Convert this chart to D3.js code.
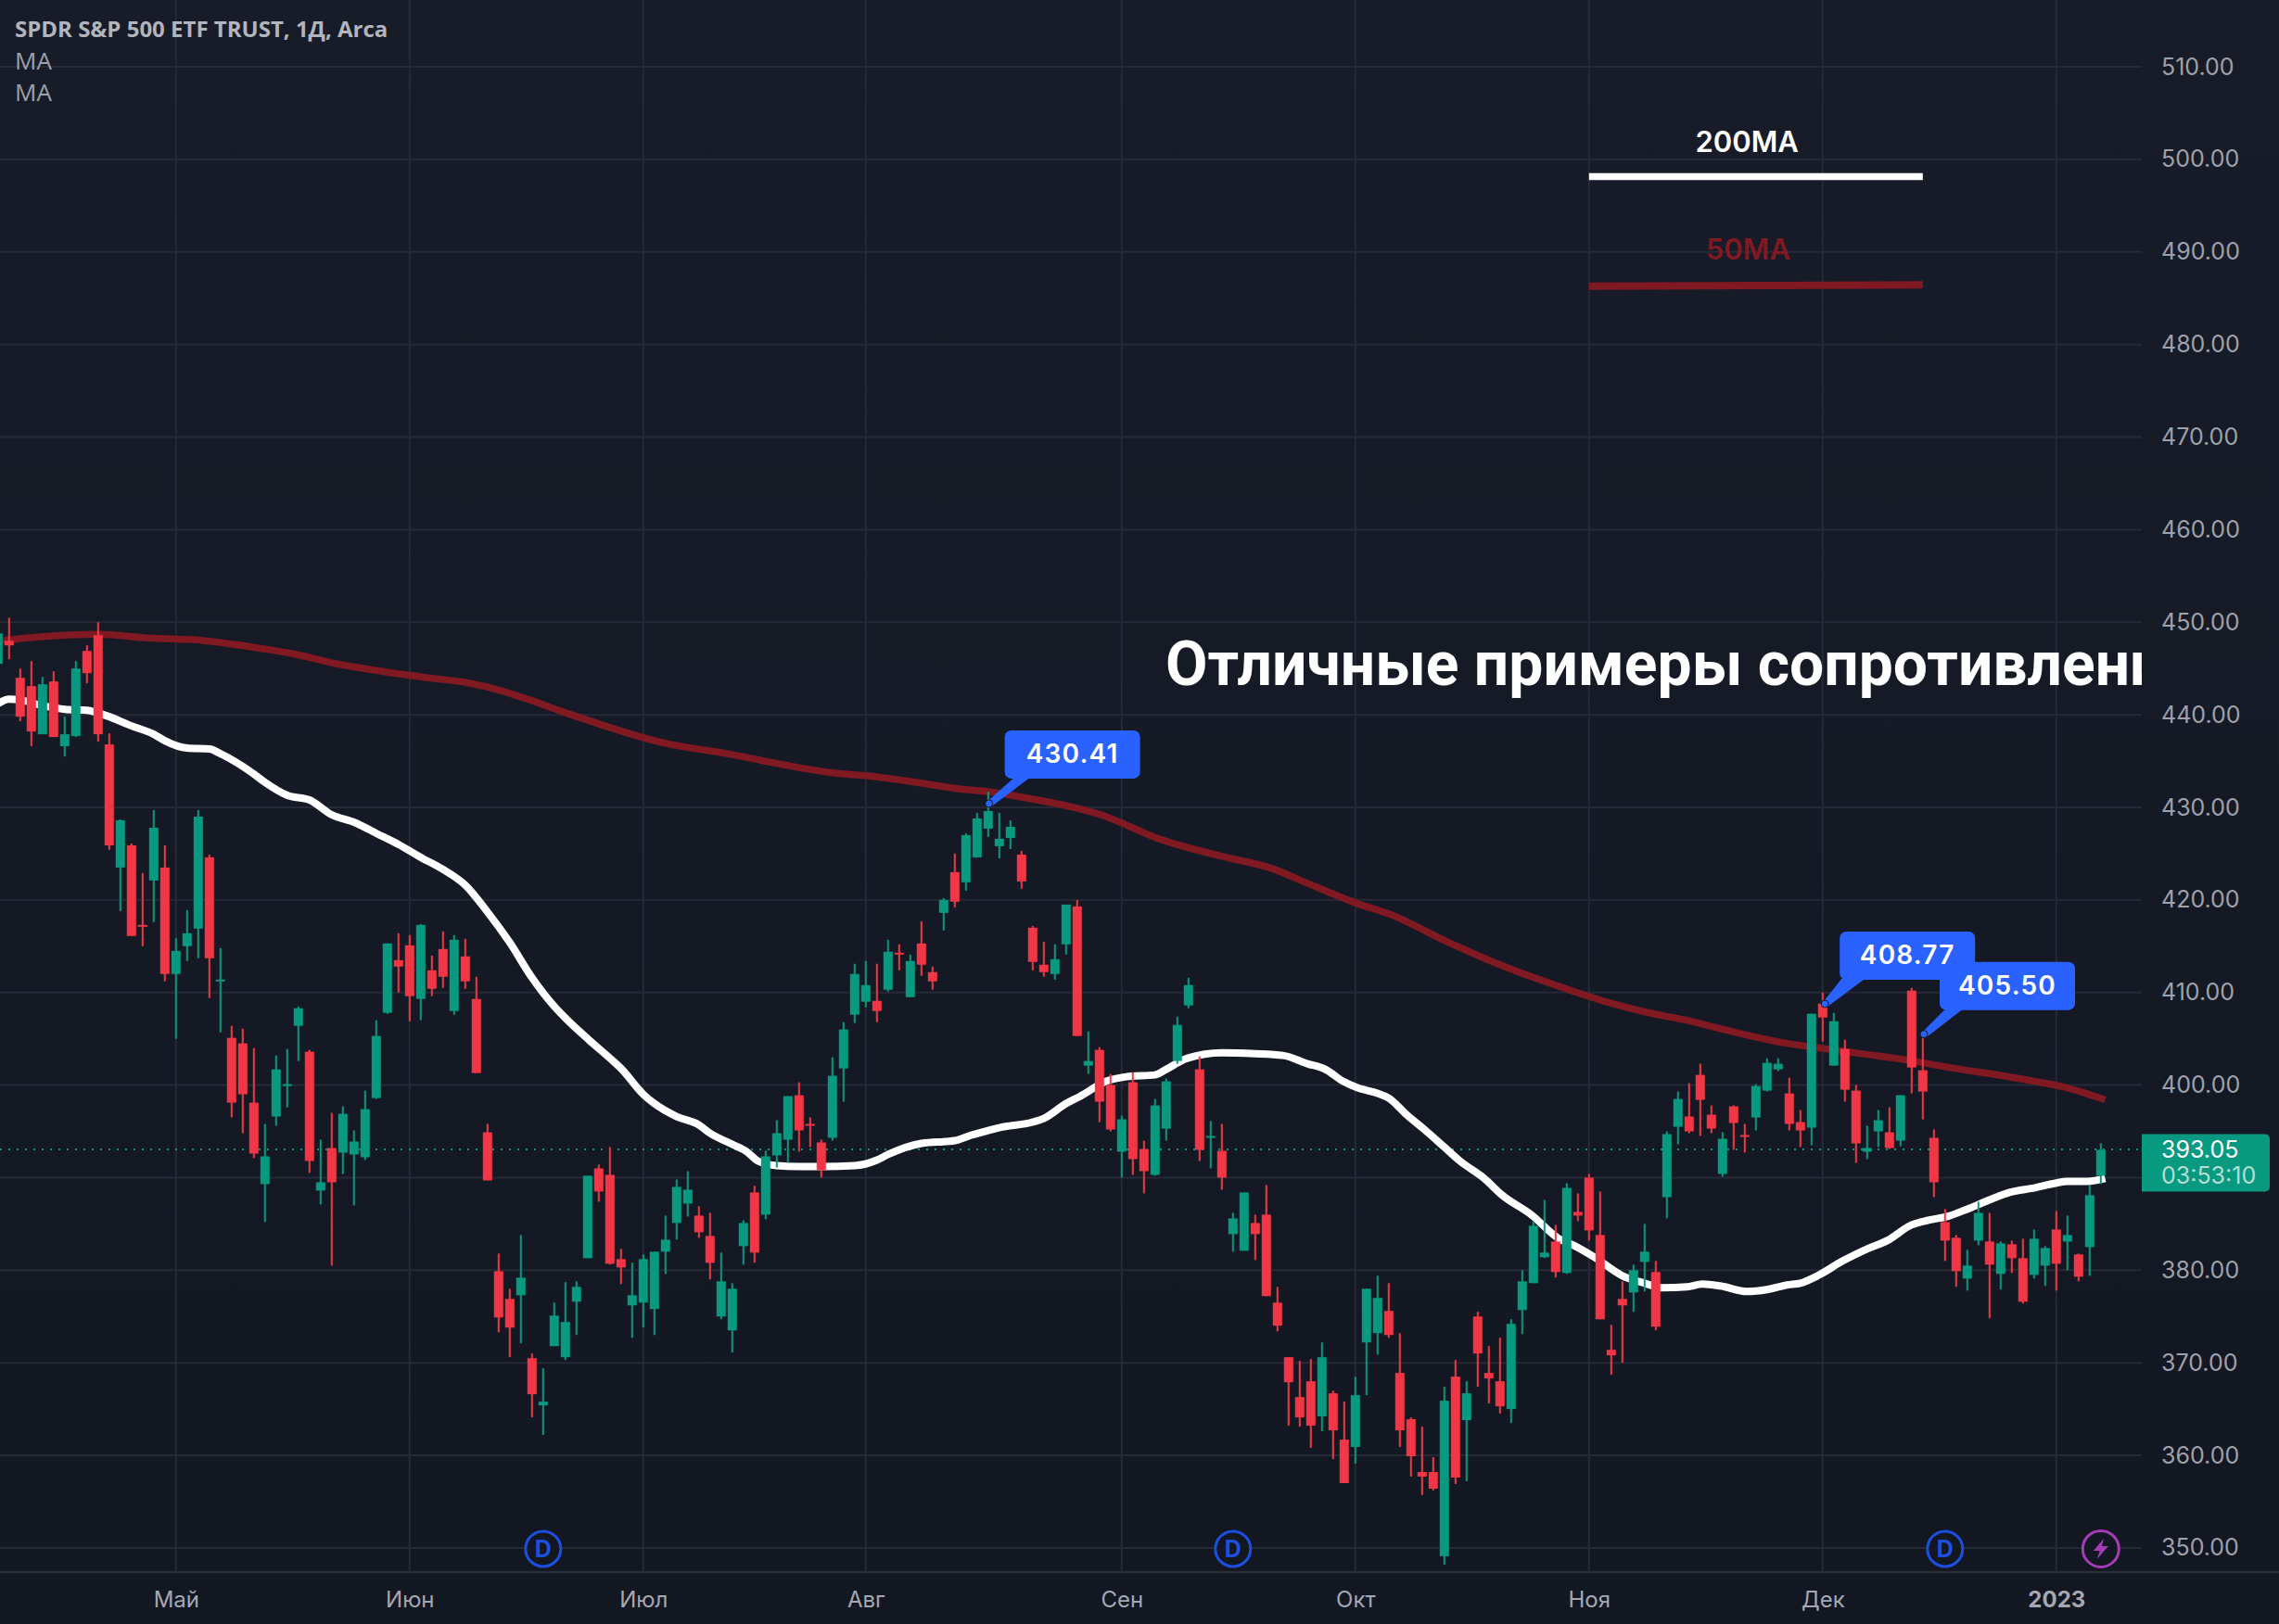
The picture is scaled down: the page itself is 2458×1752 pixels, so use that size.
<!DOCTYPE html>
<html><head><meta charset="utf-8">
<script src="https://cdn.jsdelivr.net/npm/d3@7/dist/d3.min.js"></script>
<style>html,body{margin:0;padding:0;background:#131722}svg{display:block}text{font-family:Inter,sans-serif}</style>
</head><body><div id="c"></div>
<script>
const opens=[445.5,448,444,443.1,437.9,443.6,436.6,437.7,446.9,448.6,436.8,423.5,425.9,417.3,422.1,423.5,412,415,416.9,424.6,411.2,405.1,404.5,398.1,389.3,396.6,400,406.4,403.6,388.6,393.2,392.7,392.5,392.2,398.6,407.8,413.5,415.1,409.3,412.4,414.7,408,413.9,409.3,394.9,379.9,376.9,377.3,370.5,365.4,371.8,370.6,376.6,381.3,391,390.3,381.2,376.2,376.5,375.8,382,385.1,387.2,385.9,383.7,375,373.5,382.6,388.4,386,392.4,394.1,398.9,395.8,393.8,394.3,401.8,407.6,409,409.1,410.3,414.3,409.5,415.3,412.2,418.6,423,421.9,424.6,427.7,425.8,426.7,424.9,417,413,412,415.2,419.3,402.1,403.8,400,392.8,400.3,393.1,390.3,395.3,402.6,408.6,401.7,394.4,392.9,383.9,382.1,385.1,386,376.5,370.6,366.3,368,364.2,366.7,361.7,360.9,372.2,373.2,375.6,368.9,363.9,358.2,358.2,349.1,368.5,363.8,375,368.9,368,365,375.7,378.6,381.4,383.1,379.7,386.3,390,383.8,371.4,376.9,377.6,380.9,379.8,387.9,395.5,396.6,401.1,396.8,390.4,397.7,394.6,396.5,399.4,401.7,399.1,396,395.4,408.8,402.1,403.9,399.4,392.8,395,394.9,394,410.2,401.6,394.3,385.2,383.5,379.1,383.2,383.1,379.6,382.8,381.3,379.5,380.5,384.4,383.1,381.7,382.5,390.2];
const closes=[448.8,447.5,439.8,438.2,443.3,437.6,437.9,445,444.5,437.9,425.9,428.6,416.1,417.2,427.8,412,414.5,416.4,429,413.7,411.4,398.1,399,392.6,392.3,401.7,400.1,408.3,391.8,389.5,389.5,396.9,393.9,397.4,405.3,415.3,412.8,409.6,417.3,410.4,411.7,415.7,411.2,401.3,389.7,374.9,373.8,379.2,366.6,365.8,375.1,374.4,378.2,390.2,388.5,380.7,380.3,377.3,381.2,382,383.3,389,388.7,384.1,380.8,378.8,378,385.1,381.9,392.3,394.8,398.8,395.1,395.6,390.8,401,406,412,410.8,408,414.4,414.1,413.4,413,411.2,420,419.8,427,428.8,429.6,426.6,427.9,422,413.3,412.2,413.6,419.5,405.3,402.6,398.2,395.2,396.3,392,390.7,397.8,400.4,406.5,410.8,393,394.5,390,385.6,388.4,383.9,377.2,374,367.9,364.1,363.2,370.6,362.7,357,366.5,378,377,373,362.7,359.9,357.7,356.4,365.9,357.6,366.7,371,368.3,365.3,374.2,378.8,384.8,381.9,379.8,388.9,385.9,384.3,374.7,370.8,376.2,380,382,373.9,394.7,398.5,395,398.4,395.3,394.2,395.9,394.4,399.9,402.4,402.3,395.8,395.1,407.7,407.3,406.9,399.5,393.7,393.2,396.2,393.2,398.9,401.9,399.3,389.5,383.2,379.9,380.5,386.2,380.6,382.9,381.3,376.6,383.4,382.4,380.7,383.8,379.3,388.1,393];
const highs=[449,450.5,445,445.8,444.1,444.7,439.8,445.8,447.5,450,438,428.7,426.1,422.9,429.7,425.9,415.9,418.9,429.7,424.9,414.8,406.4,406.1,404,395.8,403.2,403.9,408.5,403.8,394.1,397,397.7,395.1,399.4,407,415.3,416.4,416.2,417.4,414,416.6,416.2,415.8,411.7,395.8,381.8,378,383.8,371,369.4,376.5,378.7,378.8,390.2,391.4,393.3,382.3,380.8,381.7,382,385.9,389.8,390.7,386.9,386.2,381.9,378.6,385.4,389.1,392.9,396.2,398.8,400.3,396.5,394.1,403,406.8,413.1,413.4,413.1,415.7,415.2,414.1,417.7,412.8,420.2,425,427.2,429.4,431.7,429.4,428.6,425.3,417.2,415.5,415.2,419.5,420,405.8,404.1,401.2,396.7,401.4,394,398.5,400.7,407.4,411.6,403.1,396.1,395.8,386.2,388.4,386,389.2,378.2,370.6,370.2,370.4,372.2,367,365.8,368.5,378,379.4,378.6,373.2,364.1,363.1,359.8,367.4,370.3,368,375.5,371.8,372.7,374.7,380,385.3,387.6,384.9,389.4,388.3,390.4,388.5,374.1,378.8,380.6,385,381,395,399.3,400.2,402.3,397.8,394.9,397.8,395.8,400.1,402.9,402.9,400.8,397.3,407.7,410,407.8,404.9,400,395.6,397.3,397.6,398.9,410.5,405.5,395.2,386.6,383.8,382.2,387.4,386.2,383.1,383.2,383.4,384.4,382.6,386.4,385.9,381.8,389.2,393.7];
const lows=[445,446,439.3,436.6,437.9,437.6,435.5,437.6,443.4,437.1,425.4,418.8,416.1,415,417.6,411.2,405,413.4,413.7,409.4,405.7,396.5,394.8,392.1,385.2,395.6,397.6,402.6,390.5,387.1,380.5,390.4,387,391.9,398.5,407.7,410,406.9,407,409.6,410.5,407.6,410.4,401.3,389.7,373.3,370.6,372.1,364.1,362.2,371.8,370.3,373,381.3,387.4,380.6,378.5,372.7,373.8,373,379.6,383.3,385.8,383.5,379,374.7,371.1,380.6,380.8,385.5,391.1,391.6,392.8,393.3,390,394,398.2,406.7,408.4,406.8,410.1,412.4,409.5,411.8,410.3,416.7,419.2,421,424.6,426.8,424.5,425.5,421.2,412.4,411.7,411.4,414.1,405.3,401.2,396,395,390,390.3,388.3,390.2,394,402.3,408.3,391.8,391,388.7,382,382.1,381.1,377.2,373.4,363.2,363.1,360.8,362.6,359.6,357,359.1,366.5,370.9,372.7,360.9,357.7,355.7,356.2,348.2,356.9,357.2,367.4,365.6,364.5,363.5,373.1,378.6,381.3,379.2,379.6,385.3,383.2,374.7,368.7,370,375.5,377.7,373.5,385.6,393.6,394.8,394.5,394.8,390.1,393,392.7,395.1,399.3,401.5,395.1,393.3,393.5,404.7,402.1,398.2,391.6,392,393.3,393.1,393.4,399.1,396.3,387.9,381,378.2,377.8,382.7,374.8,377.9,379.7,376.4,379.1,378.3,377.8,380,378.8,379.4,389.3];
const ma50Index=[0,1,2,4,6,8,9,10,12,14,15,17,19,20,23,24,26,28,30,32,34,36,38,40,42,44,46,48,50,51.2,53.1,55.1,56,58,59,61,63,64,66,67.3,68.3,70,72,74,77,79,80,83,86,87.5,89,90,93,94,96,97.3,99.6,101.4,104,105,106.9,110,113,115.5,117.7,119.3,120.9,122.2,124,125,126.6,128.2,130,131.4,133.6,135.2,137.8,140.3,141.6,143.5,146,148,149.6,151.8,153.2,154.8,157.2,159,160.8,162,163.7,165.8,168,169.8,172,173.5,175.2,177,179.2,180.8,183.1,184.9,186,187.8,189.4];
const ma50Values=[441.2,441.7,441.6,441,440.6,440.5,440.2,439.8,438.8,437.9,437.2,436.4,436.3,435.8,433.6,432.7,431.3,430.8,429.2,428.4,427.2,426,424.6,423.3,421.6,418.7,415.4,411.6,408.5,407,404.9,402.8,401.8,399,398,396.6,395.7,394.8,393.6,392.8,391.8,391.3,391.2,391.2,391.3,391.9,392.5,393.7,394,394.6,395.1,395.4,396,396.4,398,398.8,400.4,400.9,401.1,401.7,402.9,403.5,403.4,403.2,402.3,401.7,400.4,399.7,399.1,398.6,396.8,395.2,393.3,391.8,389.9,388.1,386,383.4,382.7,381.4,379.4,378.6,378.1,378.2,378.5,378.3,377.7,377.9,378.4,378.6,379.5,381,382.3,383.2,384.9,385.4,385.8,386.6,387.7,388.4,388.9,389.4,389.6,389.6,389.9];
const ma200Index=[0.2,3.5,9,13.4,18.6,24,26.5,30.5,34.5,38.7,42,44,47.3,51.8,59.7,66,70.6,75.2,78.2,83.1,86.4,89,92,96.3,99.6,101.8,103.7,109.7,114.5,117.7,122.2,125,130.4,135.2,140.7,144.8,148,151.8,154.8,160.8,164.4,168,171.6,175.9,180.2,183.1,186,189.4];
const ma200Values=[448,448.4,448.7,448.3,448,447.1,446.6,445.5,444.7,444,443.5,443,441.8,439.9,437,435.7,434.6,433.7,433.4,432.6,432,431.7,431.1,430.1,429,427.9,426.9,424.8,423.4,421.8,419.6,418.5,415.4,412.9,410.5,408.9,407.9,407,406.1,404.5,403.9,403.3,402.7,401.8,401,400.4,399.7,398.4];
const monthIndex=[16,37,58,78,101,122,143,164,185];
const monthLabels=["Май","Июн","Июл","Авг","Сен","Окт","Ноя","Дек","2023"];
const priceTicks=d3.range(350,511,10);
const calloutValues=[430.41,408.77,405.50];
const calloutIndex=[89.07,164.2,173.1];
const dividendIndex=[49,111,175];
const lastPrice=393.05, countdown="03:53:10", lastIndex=189;
const title="SPDR S&P 500 ETF TRUST, 1Д, Arca";

const W=2458,H=1752,paneR=2310,paneB=1696;
const UP="#089981",DN="#f23645",GRID="#262a36",MA200="#801922";
const x=d3.scaleLinear().domain([0,189]).range([-2.2,2265.8]);
const y=d3.scaleLinear().domain([350,510]).range([1669.9,72.1]);
const svg=d3.select("#c").append("svg").attr("width",W).attr("height",H).attr("viewBox",[0,0,W,H]);
const defs=svg.append("defs");
const g=defs.append("linearGradient").attr("id","bg").attr("x1",0).attr("x2",0).attr("y1",0).attr("y2",1);
g.append("stop").attr("offset",0).attr("stop-color","#181c28");
g.append("stop").attr("offset",1).attr("stop-color","#131722");
defs.append("clipPath").attr("id","pane").append("rect").attr("width",paneR).attr("height",paneB);
svg.append("rect").attr("width",W).attr("height",H).attr("fill","url(#bg)");

// grid
const grid=svg.append("g").attr("stroke",GRID).attr("stroke-width",2);
grid.selectAll(".h").data(priceTicks).join("line").attr("x1",0).attr("x2",paneR).attr("y1",d=>y(d)).attr("y2",d=>y(d));
grid.selectAll(".v").data(monthIndex).join("line").attr("x1",d=>x(d)).attr("x2",d=>x(d)).attr("y1",0).attr("y2",paneB);
svg.append("line").attr("x1",0).attr("x2",W).attr("y1",paneB).attr("y2",paneB).attr("stroke","#2a2e39").attr("stroke-width",2.5);

// axes (the 390 tick sits under the last-price label, as in the reference)
const yAxis=d3.axisRight(y).tickValues(priceTicks.filter(d=>d!==390)).tickFormat(d3.format(".2f")).tickSize(0).tickPadding(21);
const ya=svg.append("g").attr("transform",`translate(${paneR},0)`).call(yAxis);
ya.select(".domain").remove();
ya.selectAll("text").attr("fill","#9ea1ab").style("font-size","25px").style("font-family","Inter");
const xAxis=d3.axisBottom(x).tickValues(monthIndex).tickFormat((d,i)=>monthLabels[i]).tickSize(0).tickPadding(21);
const xa=svg.append("g").attr("transform",`translate(0,${paneB})`).call(xAxis);
xa.select(".domain").remove();
xa.selectAll("text").attr("fill","#a5a8b2").style("font-size","24px").style("font-family","Inter")
  .style("font-weight",(d,i)=>monthLabels[i]==="2023"?700:400);

const pane=svg.append("g").attr("clip-path","url(#pane)");
// last price line
pane.append("line").attr("x1",0).attr("x2",paneR).attr("y1",y(lastPrice)).attr("y2",y(lastPrice))
  .attr("stroke",UP).attr("stroke-width",2).attr("stroke-dasharray","2 7");

// MA
const line=d3.line().x(d=>x(d[0])).y(d=>y(d[1])).curve(d3.curveMonotoneX);
pane.append("path").attr("d",line(ma200Index.map((d,i)=>[d,ma200Values[i]]))).attr("fill","none").attr("stroke",MA200).attr("stroke-width",7.5);
pane.append("path").attr("d",line(ma50Index.map((d,i)=>[d,ma50Values[i]]))).attr("fill","none").attr("stroke","#fff").attr("stroke-width",8);

// candles
const candles=d3.range(opens.length).map(i=>({i,o:opens[i],c:closes[i],h:highs[i],l:lows[i]}));
const cg=pane.append("g").selectAll("g").data(candles).join("g").attr("fill",d=>d.c>=d.o?UP:DN).attr("stroke",d=>d.c>=d.o?UP:DN);
cg.append("line").attr("x1",d=>x(d.i)).attr("x2",d=>x(d.i)).attr("y1",d=>y(d.h)).attr("y2",d=>y(d.l)).attr("stroke-width",2);
cg.append("rect").attr("x",d=>x(d.i)-5).attr("width",10).attr("stroke","none")
  .attr("y",d=>y(Math.max(d.o,d.c))).attr("height",d=>Math.max(2,Math.abs(y(d.o)-y(d.c))));

// legend drawings
const legX=[143,173];
pane.append("line").attr("x1",x(legX[0])).attr("x2",x(legX[1])).attr("y1",y(498.15)).attr("y2",y(498.15)).attr("stroke","#fff").attr("stroke-width",7.5);
pane.append("line").attr("x1",x(legX[0])).attr("x2",x(legX[1])).attr("y1",y(486.3)).attr("y2",y(486.45)).attr("stroke",MA200).attr("stroke-width",8);
pane.append("text").attr("x",x(157.2)).attr("y",y(498.15)-26).attr("text-anchor","middle").attr("fill","#fff").style("font-size","31px").style("font-weight",600).text("200MA");
pane.append("text").attr("x",x(157.3)).attr("y",y(486.3)-29).attr("text-anchor","middle").attr("fill",MA200).style("font-size","31px").style("font-weight",600).text("50MA");
pane.append("text").attr("x",1257).attr("y",739).attr("fill","#fff").style("font-family","Roboto").style("font-size","66px").style("font-weight",700).text("Отличные примеры сопротивления");

// callouts
const calloutBoxes=[{dx:17,dy:-79,pa:10,pb:27},{dx:16,dy:-78,pa:2,pb:27},{dx:17,dy:-78,pa:6,pb:25}];
const cc=pane.append("g");
calloutValues.forEach((v,k)=>{
  const px=x(calloutIndex[k]),py=y(v),b=calloutBoxes[k];
  const bx=px+b.dx,by=py+b.dy,bw=146,bh=52;
  cc.append("path").attr("d",`M${bx+b.pa},${by+bh-1} L${px-1},${py-3} L${px+3},${py+3} L${bx+b.pb},${by+bh-1} Z`).attr("fill","#2962ff");
  cc.append("circle").attr("cx",px).attr("cy",py).attr("r",4).attr("fill","#2962ff").attr("stroke","#131722").attr("stroke-width",1);
  cc.append("rect").attr("x",bx).attr("y",by).attr("width",bw).attr("height",bh).attr("rx",7).attr("fill","#2962ff");
});
calloutValues.forEach((v,k)=>{
  const px=x(calloutIndex[k]),py=y(v),b=calloutBoxes[k];
  cc.append("text").attr("x",px+b.dx+73).attr("y",py+b.dy+35).attr("text-anchor","middle").attr("fill","#fff").style("font-size","28px").style("letter-spacing","1.2px").style("font-weight",600).text(v.toFixed(2));
});

// events
dividendIndex.forEach(i=>{
  const ev=svg.append("g").attr("transform",`translate(${x(i)},${y(350)+1})`);
  ev.append("circle").attr("r",19).attr("fill","#131722").attr("stroke","#1c4fe0").attr("stroke-width",3);
  ev.append("text").attr("text-anchor","middle").attr("y",9).attr("fill","#1c4fe0").style("font-size","25px").style("font-weight",700).text("D");
});
const ev=svg.append("g").attr("transform",`translate(${x(lastIndex)},${y(350)+1})`);
ev.append("circle").attr("r",19.5).attr("fill","#131722").attr("stroke","#a53cb8").attr("stroke-width",3);
ev.append("path").attr("d","M3,-11 L-8,2 L-1,2 L-4,11 L8,-3 L1,-3 Z").attr("fill","#a53cb8");

// last-price label
const lab=svg.append("g");
lab.append("path").attr("d",`M${paneR},${y(lastPrice)-16.5} H2443 a5,5 0 0 1 5,5 V${y(lastPrice)+40.5} a5,5 0 0 1 -5,5 H${paneR} Z`).attr("fill",UP);
lab.append("text").attr("x",2331).attr("y",y(lastPrice)+9).attr("fill","#fff").style("font-size","25px").text(lastPrice.toFixed(2));
lab.append("text").attr("x",2331).attr("y",y(lastPrice)+37).attr("fill","#b5dcd5").style("font-size","25px").text(countdown);

// header
const hd=svg.append("g");
hd.append("text").attr("x",16).attr("y",40).attr("fill","#b2b5be").style("font-family","'Open Sans'").style("font-size","24px").style("font-weight",700).text(title);
hd.append("text").attr("x",16).attr("y",75).attr("fill","#9ea1ab").style("font-family","'Open Sans'").style("font-size","26px").text("MA");
hd.append("text").attr("x",16).attr("y",109).attr("fill","#9ea1ab").style("font-family","'Open Sans'").style("font-size","26px").text("MA");
</script></body></html>
